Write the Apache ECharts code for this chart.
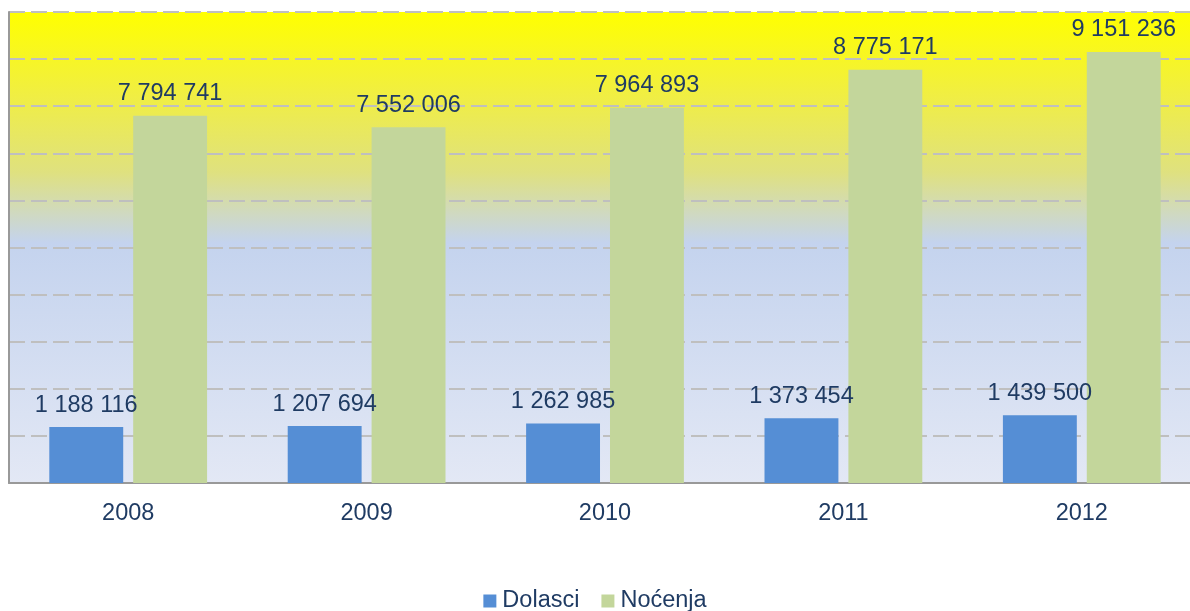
<!DOCTYPE html>
<html>
<head>
<meta charset="utf-8">
<script src="https://cdn.jsdelivr.net/npm/echarts@6/dist/echarts.min.js"></script>
<style>
  html, body { margin: 0; padding: 0; background: #fff; }
  #chart { width: 1190px; height: 611px; }
</style>
</head>
<body>
<div id="chart"></div>
<script>
var years = ['2008', '2009', '2010', '2011', '2012'];
var dolasci = [1188116, 1207694, 1262985, 1373454, 1439500];
var nocenja = [7794741, 7552006, 7964893, 8775171, 9151236];

var textColor = '#1f3b63';
var font = '"Liberation Sans", Arial, sans-serif';

function fmt(v) {
    return String(v).replace(/\B(?=(\d{3})+(?!\d))/g, ' ');
}

var dom = document.getElementById('chart');
var myChart = echarts.init(dom, null, { renderer: 'canvas' });

var labelStyle = {
    show: true,
    position: 'top',
    distance: 10,
    color: textColor,
    fontSize: 23.5,
    fontFamily: font,
    formatter: function (p) { return fmt(p.value); }
};

var option = {
    animation: false,
    grid: {
        left: 9, right: -11, top: 12, bottom: 128,
        outerBoundsMode: 'none',
        containLabel: false,
        show: true,
        borderWidth: 0,
        backgroundColor: new echarts.graphic.LinearGradient(0, 0, 0, 1, [
            { offset: 0, color: '#ffff00' },
            { offset: 0.18, color: '#f0ee44' },
            { offset: 0.34, color: '#dfe17f' },
            { offset: 0.42, color: '#d1dabb' },
            { offset: 0.49, color: '#c4d3ee' },
            { offset: 1, color: '#e3e8f5' }
        ])
    },
    legend: {
        bottom: -7,
        left: 'center',
        itemWidth: 13,
        itemHeight: 13,
        itemGap: 22,
        icon: 'rect',
        textStyle: { color: textColor, fontSize: 23.5, fontFamily: font, padding: [0, 0, 0, 1] },
        data: ['Dolasci', 'Noćenja']
    },
    xAxis: {
        type: 'category',
        data: years,
        axisLine: { show: true, lineStyle: { color: '#999999', width: 2 } },
        axisTick: { show: false },
        axisLabel: { color: textColor, fontSize: 23.5, fontFamily: font, margin: 19 }
    },
    yAxis: {
        type: 'value',
        min: 0,
        max: 10000000,
        interval: 1000000,
        axisLine: { show: true, lineStyle: { color: '#999999', width: 2 } },
        axisTick: { show: false },
        axisLabel: { show: false },
        splitLine: { lineStyle: { color: '#bfbfbf', width: 2, type: [16, 6] } }
    },
    series: [
        {
            name: 'Dolasci',
            type: 'bar',
            data: dolasci,
            barWidth: '31%',
            barGap: '13.5%',
            itemStyle: { color: '#558ed5' },
            label: labelStyle
        },
        {
            name: 'Noćenja',
            type: 'bar',
            data: nocenja,
            barWidth: '31%',
            itemStyle: { color: '#c3d69b' },
            label: labelStyle
        }
    ]
};

myChart.setOption(option);
window.addEventListener('resize', myChart.resize);
</script>
</body>
</html>
